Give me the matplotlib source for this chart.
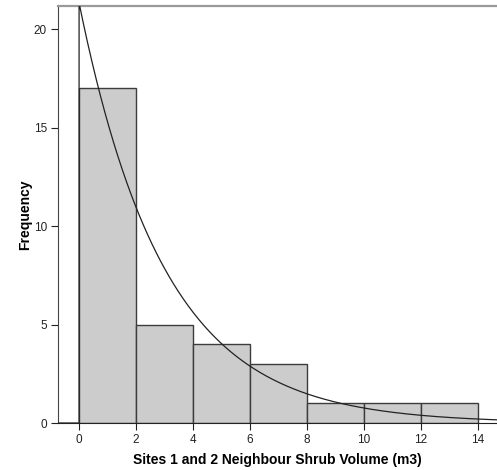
import numpy as np
import matplotlib as mpl
import matplotlib.pyplot as plt

mpl.rcParams['font.family'] = ['Liberation Sans', 'DejaVu Sans']

# histogram bins (m3) and counts
bin_left = [0, 2, 4, 6, 8, 10, 12]
counts = [17, 5, 4, 3, 1, 1, 1]
bin_width = 2
# fitted exponential curve: sample mean
fit_mean = 3.0
n_total = sum(counts)

fig = plt.figure(figsize=(4.97, 4.70), dpi=100)
ax = fig.add_axes([0.1167, 0.1, 0.8833, 0.887])

ax.bar(bin_left, counts, width=bin_width, align='edge',
       color='#cccccc', edgecolor='#3c3c3c', linewidth=1.0, zorder=2)

# exponential density scaled to counts
xs = np.linspace(0, 15, 400)
ys = n_total * bin_width / fit_mean * np.exp(-xs / fit_mean)
xs = np.concatenate([[-1, 0], xs])
ys = np.concatenate([[0, 0], ys])
ax.plot(xs, ys, color='#222222', linewidth=0.9, zorder=3)

ax.set_xlim(-0.74, 14.67)
ax.set_ylim(0, 21.17)
ax.set_xticks(range(0, 15, 2))
ax.set_yticks([0, 5, 10, 15, 20])

ax.spines['right'].set_visible(False)
ax.spines['top'].set_color('#9a9a9a')
ax.spines['top'].set_linewidth(1.6)
ax.spines['left'].set_color('#444444')
ax.spines['bottom'].set_color('#222222')
ax.tick_params(axis='both', direction='out', length=5, width=0.8,
               labelsize=8.5, colors='#222222', pad=3)

ax.set_xlabel('Sites 1 and 2 Neighbour Shrub Volume (m3)',
              fontsize=10, fontweight='bold', labelpad=5)
ax.set_ylabel('Frequency', fontsize=10, fontweight='bold', labelpad=1)

fig.savefig('out.png', dpi=100)
